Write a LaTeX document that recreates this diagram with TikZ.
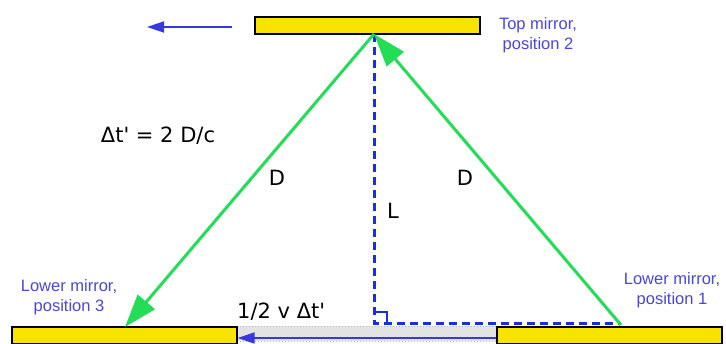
\documentclass[tikz,border=0pt]{standalone}
\usepackage{fontspec}
\setmainfont{DejaVu Sans}
\newfontfamily\notefont{Liberation Sans}
\usetikzlibrary{positioning, arrows.meta}
\definecolor{mirrorYellow}{HTML}{F8E200}
\definecolor{rayGreen}{HTML}{22DD55}
\definecolor{dashBlue}{HTML}{1A2EE0}
\definecolor{noteBlue}{HTML}{4A46D8}
\definecolor{slideBlue}{HTML}{3838E0}

\begin{document}
\begin{tikzpicture}[x=1pt, y=-1pt,
    mirror/.style={draw, line width=1.2pt, fill=mirrorYellow, inner sep=0pt,
      minimum width=225pt, minimum height=17pt},
    ray/.style={rayGreen, line width=3pt, -{Triangle[length=33pt, width=22pt]}},
    leg/.style={dashBlue, line width=3pt, dash pattern=on 8pt off 5pt},
    vel/.style={slideBlue, line width=1.8pt, -{Triangle[length=17pt, width=11pt]}},
    note/.style={noteBlue, align=center, inner sep=0pt,
      font=\notefont\fontsize{16.5}{20}\selectfont},
    lbl/.style={inner sep=0pt, font=\fontsize{21}{24}\selectfont}]
    \useasboundingbox (0,0) rectangle (726,343);
    % --- gray track between the lower mirrors ---
    \fill[gray!22] (237,326) rectangle (497,341);
    \draw[gray!55, dotted, line width=1pt] (237,326) -- (497,326) (237,341) -- (497,341);
    % --- mirrors ---
    \node[mirror] (tm) at (367.5,25.5) {};
    \node[mirror] (lm3) at (124.5,335.5) {};
    \node[mirror] (lm1) at (609.5,335.5) {};
    % --- light path points ---
    \coordinate (apex) at (374,34);
    \coordinate (foot) at (374,323);
    \coordinate (p1) at (621,325);
    \coordinate (p1b) at (621,323);
    \coordinate (p3) at (125,327);
    % --- right triangle (L and half the slide) ---
    \draw[leg] (apex) -- (foot) -- (p1b);
    \draw[dashBlue, line width=2.5pt] ([yshift=11pt]foot) -| ([xshift=13pt]foot);
    % --- light rays ---
    \draw[ray] (p1) -- (apex);
    \draw[ray] (apex) -- (p3);
    % --- motion arrows ---
    \coordinate (vfrom) at (232,27);
    \coordinate (vto) at (147,27);
    \draw[vel] (vfrom) -- (vto);
    \draw[vel] ([yshift=-2.5pt]lm1.west) -- ([yshift=-2.5pt]lm3.east);
    % --- labels ---
    \node[note] (t2) at (538,35) {Top mirror,\\ position 2};
    \node[note] (n3) at (69,297) {Lower mirror,\\position 3};
    \node[note] (n1) at (672,290) {Lower mirror,\\position 1};
    \node[lbl] (dt) at (158,136) {Δt\textquotesingle{} = 2 D/c};
    \node[lbl] (d1) at (277,178) {D};
    \node[lbl] (d2) at (465,178) {D};
    \node[lbl] (ll) at (393,211) {L};
    \node[lbl, anchor=south west] (half) at (237,321) {1/2 v Δt\textquotesingle};
\end{tikzpicture}
\end{document}
